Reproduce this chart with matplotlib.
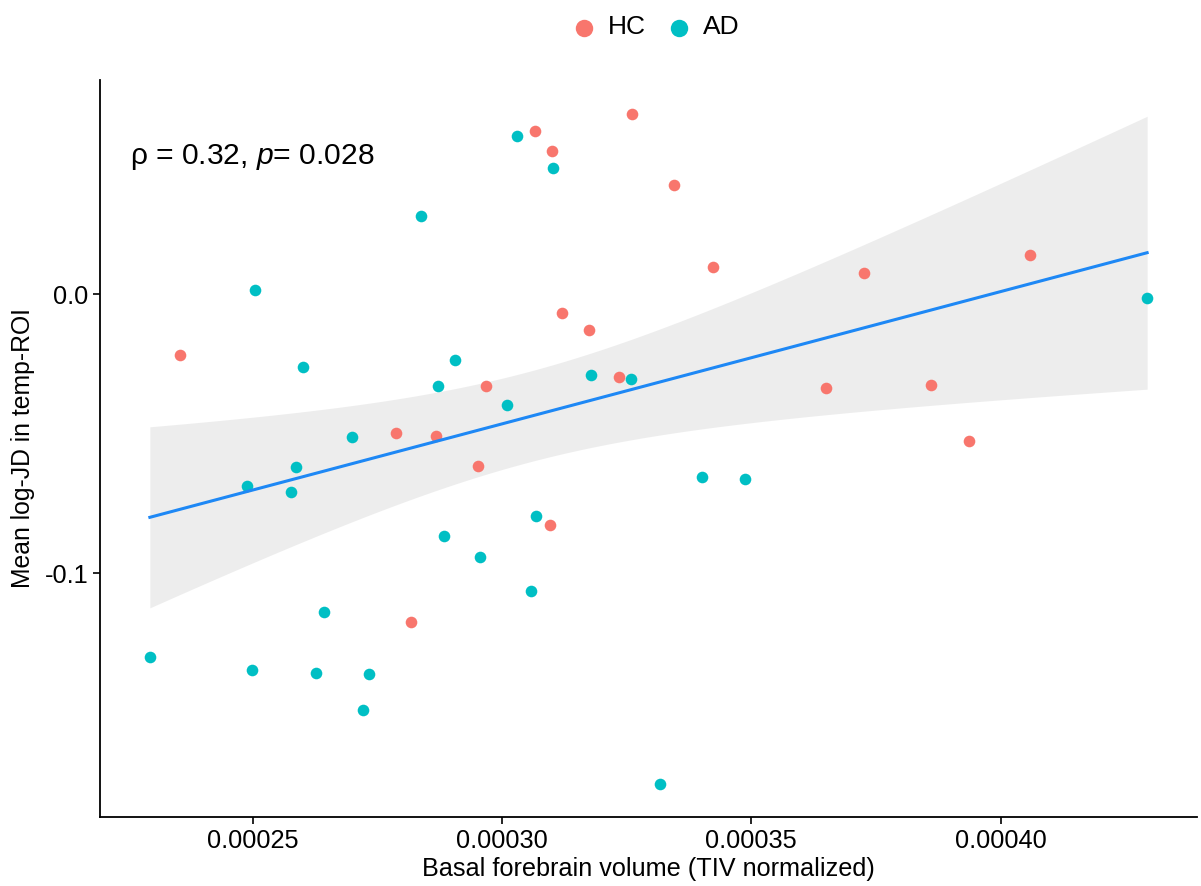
import numpy as np
import matplotlib
matplotlib.use('Agg')
import matplotlib.pyplot as plt

plt.rcParams['font.family'] = ['Liberation Sans', 'DejaVu Sans']
plt.rcParams['mathtext.fontset'] = 'custom'
plt.rcParams['mathtext.it'] = 'Liberation Sans:italic'
plt.rcParams['mathtext.rm'] = 'Liberation Sans'

# datos
hc_x = [0.0002354, 0.000326, 0.0003066, 0.00031, 0.0003346, 0.0003424, 0.000312,
        0.0003174, 0.0003234, 0.0002968, 0.0002788, 0.0002868, 0.0002952, 0.0003096,
        0.0002818, 0.0003726, 0.000406, 0.000365, 0.000386, 0.0003936]
hc_y = [-0.0216, 0.0647, 0.0586, 0.0514, 0.0392, 0.0097, -0.0068,
        -0.0129, -0.0295, -0.0327, -0.0496, -0.0507, -0.0615, -0.0827,
        -0.1173, 0.0076, 0.0140, -0.0335, -0.0324, -0.0525]

ad_x = [0.0002838, 0.000303, 0.0003102, 0.0002504, 0.0002602, 0.0002906, 0.0002872,
        0.0003178, 0.0003258, 0.000301, 0.00027, 0.0002588, 0.0002488, 0.0002578,
        0.0003402, 0.0003488, 0.0003068, 0.0002884, 0.0002956, 0.0003058, 0.0002644,
        0.0002294, 0.0002498, 0.0002628, 0.0002734, 0.0002722, 0.0003318, 0.0004294]
ad_y = [0.0281, 0.0568, 0.0453, 0.0014, -0.0259, -0.0234, -0.0327,
        -0.0291, -0.0302, -0.0396, -0.0511, -0.0619, -0.0687, -0.0709,
        -0.0655, -0.0662, -0.0795, -0.0867, -0.0942, -0.1061, -0.1137,
        -0.1299, -0.1345, -0.1356, -0.1360, -0.1489, -0.1752, -0.0014]

grupos = ['HC', 'AD']
colores = {'HC': '#F8766D', 'AD': '#00BFC4'}
x_ticks = [0.00025, 0.00030, 0.00035, 0.00040]
y_ticks = [-0.1, 0.0]
texto_cor = 'ρ = 0.32, $\\mathit{p}$= 0.028'

# regresion lineal con intervalo de confianza del 95%
x = np.array(hc_x + ad_x)
y = np.array(hc_y + ad_y)
n = len(x)
b, a = np.polyfit(x, y, 1)
xs = np.linspace(x.min(), x.max(), 200)
ys = a + b * xs
res = y - (a + b * x)
s = np.sqrt(np.sum(res**2) / (n - 2))
se = s * np.sqrt(1 / n + (xs - x.mean())**2 / np.sum((x - x.mean())**2))
t = 2.013

fig = plt.figure(figsize=(12.01, 8.86), dpi=100)
ax = fig.add_axes([100/1201, 69/886, 1097/1201, 737/886])

ax.fill_between(xs, ys - t*se, ys + t*se, color='#dcdcdc', alpha=0.5, lw=0, zorder=1)
ax.scatter(hc_x, hc_y, s=70, color=colores['HC'], lw=0, zorder=2, label='HC')
ax.scatter(ad_x, ad_y, s=70, color=colores['AD'], lw=0, zorder=2, label='AD')
ax.plot(xs, ys, color='#1E88F5', lw=2.2, zorder=3)

rx = x.max() - x.min()
ry = y.max() - y.min()
ax.set_xlim(x.min() - 0.05*rx, x.max() + 0.05*rx)
ax.set_ylim(y.min() - 0.05*ry, y.max() + 0.05*ry)

ax.set_xticks(x_ticks)
ax.set_xticklabels(['0.00025', '0.00030', '0.00035', '0.00040'])
ax.set_yticks(y_ticks)
ax.set_yticklabels(['-0.1', '0.0'])
ax.tick_params(labelsize=18.3, length=5, width=1.2, colors='black')
for lado in ['top', 'right']:
    ax.spines[lado].set_visible(False)
for lado in ['left', 'bottom']:
    ax.spines[lado].set_linewidth(1.3)

ax.set_xlabel('Basal forebrain volume (TIV normalized)', fontsize=18.2, labelpad=3)
ax.set_ylabel('Mean log-JD in temp-ROI', fontsize=17.8, labelpad=7)

ax.text(0.027, 0.895, texto_cor, transform=ax.transAxes, fontsize=21.6, va='center', ha='left')

leg = fig.legend(loc='center', bbox_to_anchor=(0.54, 0.969), ncol=2, frameon=False,
                 fontsize=19, markerscale=1.5, handletextpad=-0.1, columnspacing=0.25)

fig.savefig('out.png', dpi=100)
